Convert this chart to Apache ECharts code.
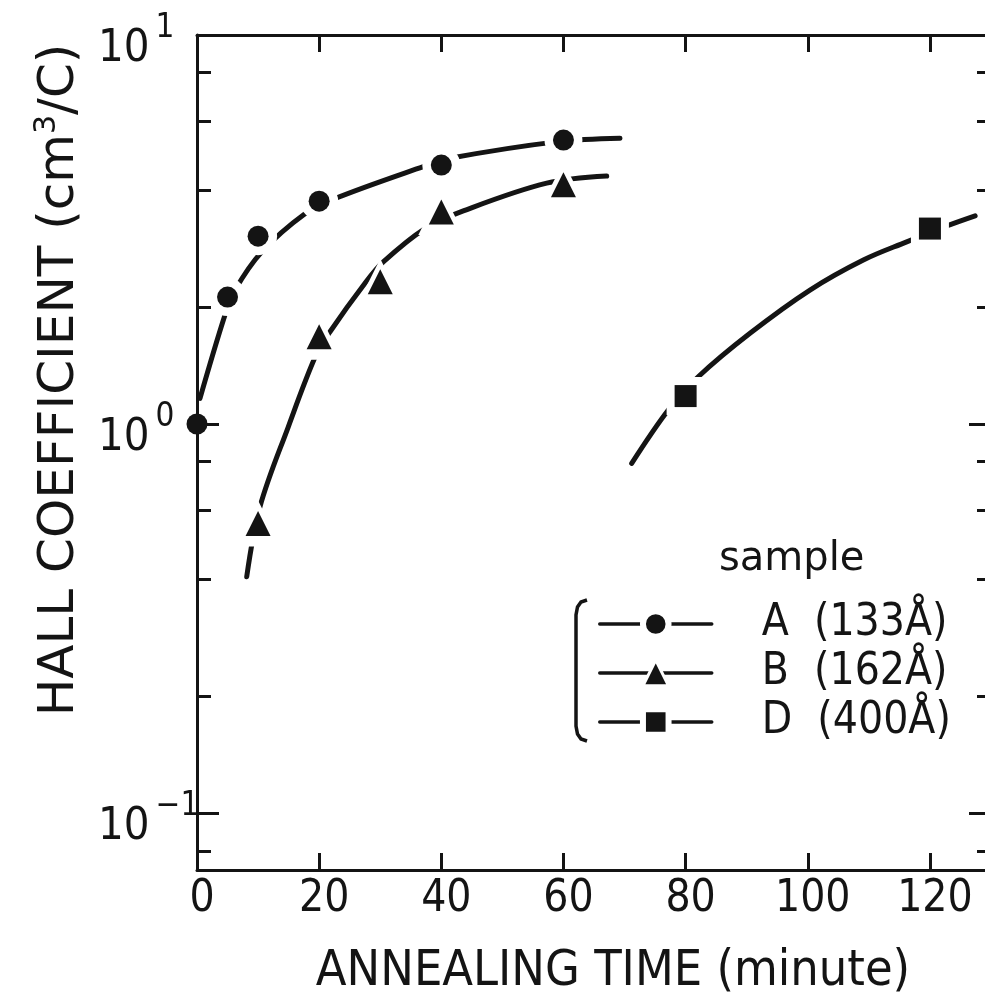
<!DOCTYPE html>
<html><head><meta charset="utf-8">
<script src="https://cdn.jsdelivr.net/npm/echarts@6/dist/echarts.min.js"></script>
<style>html,body{margin:0;padding:0;background:#fff}#c{width:985px;height:1001px}</style>
</head><body><div id="c"></div>
<script>
// ---- data ----
const sampleNames = ['A  (133Å)', 'B  (162Å)', 'D  (400Å)'];
// measured points
const aX = [0, 5, 10, 20, 40, 60];
const aY = [1.0, 2.12, 3.04, 3.74, 4.63, 5.37];
const bX = [10, 20, 30, 40, 60];
const bY = [0.555, 1.677, 2.32, 3.51, 4.12];
const dX = [80, 120];
const dY = [1.18, 3.18];
// hand-drawn curves, points
const aCurveX = [0.49, 4.58, 6.22, 10.6, 17.68, 22.6, 37.05, 41.4, 59.15, 69.25];
const aCurveY = [1.164, 1.906, 2.21, 2.77, 3.47, 3.80, 4.59, 4.82, 5.32, 5.43];
const bCurveX = [8.14, 10.31, 14.95, 19.48, 21.78, 27.5, 30.5, 37.33, 43.6, 57.25, 67.08];
const bCurveY = [0.405, 0.613, 0.984, 1.504, 1.727, 2.30, 2.61, 3.18, 3.53, 4.16, 4.34];
const dCurveX = [71.17, 77.16, 82.07, 90.54, 100.36, 109.1, 116.2, 122.5, 127.4];
const dCurveY = [0.792, 1.086, 1.323, 1.711, 2.21, 2.64, 2.94, 3.22, 3.43];
// axis ticks
const xTicks = [0, 20, 40, 60, 80, 100, 120];
const xTopTicks = [20, 40, 60, 80, 100, 120];
const yMajor = [0.1, 1, 10];
const yExp = ['−1', '0', '1'];
const yMinor = [0.08, 0.2, 0.4, 0.6, 0.8, 2, 4, 6, 8];

const ink = '#141414';
const narrow = "'Liberation Sans Narrow', 'DejaVu Sans Condensed', sans-serif";
// [symbol, visible size, white halo size]
const markers = [['circle', 21, 38], ['triangle', 25, 46], ['rect', 22, 38]];

function curve(i, xs, ys) {
  return {
    type: 'line', name: sampleNames[i], data: xs.map((x, k) => [x, ys[k]]),
    smooth: 0.35, symbol: markers[i][0], symbolSize: markers[i][1] + 6, showSymbol: false,
    clip: false, lineStyle: { color: ink, width: 5, cap: 'round' },
    itemStyle: { color: ink, borderColor: '#fff', borderWidth: 6 },
    emphasis: { disabled: true }, z: 2, zlevel: 0
  };
}
function halo(i, xs, ys) {
  return {
    type: 'scatter', name: 'halo' + i,
    data: xs.filter(x => x !== 0).map(x => [x, ys[xs.indexOf(x)]]),
    symbol: markers[i][0], symbolSize: markers[i][2], clip: false, silent: true,
    itemStyle: { color: '#ffffff', opacity: 1 },
    emphasis: { disabled: true }, z: 6, zlevel: 0
  };
}
function points(i, xs, ys) {
  return {
    type: 'scatter', name: 'pts' + i,
    data: xs.map((x, k) => [x, ys[k]]),
    symbol: markers[i][0], symbolSize: markers[i][1], clip: false,
    itemStyle: { color: ink, opacity: 1 },
    emphasis: { disabled: true }, z: 8, zlevel: 0
  };
}

const tickStyle = { color: ink, width: 3 };
const yMin = 0.0714, yMax = 10;

const chart = echarts.init(document.getElementById('c'), null, { renderer: 'canvas' });
chart.setOption({
  backgroundColor: '#fff',
  animation: false,
  grid: { left: 197, top: 35, width: 794, height: 835, containLabel: false, outerBoundsMode: 'none' },
  xAxis: [
    {
      type: 'value', min: 0, max: 130, position: 'bottom',
      axisLine: { show: true, lineStyle: { color: ink, width: 3 } },
      axisTick: { inside: true, length: 17, customValues: xTicks, lineStyle: tickStyle },
      axisLabel: { customValues: xTicks, margin: 8, padding: [0, 0, 0, 10], color: ink, fontSize: 44, fontFamily: narrow },
      splitLine: { show: false }
    },
    {
      type: 'value', min: 0, max: 130, position: 'top',
      axisLine: { show: true, lineStyle: { color: ink, width: 3 } },
      axisTick: { inside: true, length: 17, customValues: xTopTicks, lineStyle: tickStyle },
      axisLabel: { show: false }, splitLine: { show: false }
    }
  ],
  yAxis: [
    {
      type: 'log', logBase: 10, min: yMin, max: yMax, position: 'left',
      axisLine: { show: true, lineStyle: { color: ink, width: 3 } },
      axisTick: { inside: true, length: 22, customValues: yMajor, lineStyle: tickStyle },
      axisLabel: {
        customValues: yMajor, margin: 99, align: 'left', padding: [13, 0, 0, 0],
        formatter: function (v) {
          const i = yMajor.findIndex(m => Math.abs(m - v) / m < 1e-6);
          return i < 0 ? '' : '{b|10}{s|' + yExp[i] + '}';
        },
        rich: {
          b: { fontSize: 45, fontFamily: narrow, color: ink, lineHeight: 60, verticalAlign: 'bottom' },
          s: { fontSize: 33, fontFamily: narrow, color: ink, lineHeight: 60, verticalAlign: 'top', padding: [0, 0, 0, 6] }
        }
      },
      splitLine: { show: false }
    },
    {
      type: 'log', logBase: 10, min: yMin, max: yMax, position: 'left',
      axisLine: { show: false },
      axisTick: { inside: true, length: 14, customValues: yMinor, lineStyle: tickStyle },
      axisLabel: { show: false }, splitLine: { show: false }
    },
    {
      type: 'log', logBase: 10, min: yMin, max: yMax, position: 'right',
      axisLine: { show: true, lineStyle: { color: ink, width: 3 } },
      axisTick: { inside: true, length: 22, customValues: yMajor, lineStyle: tickStyle },
      axisLabel: { show: false }, splitLine: { show: false }
    },
    {
      type: 'log', logBase: 10, min: yMin, max: yMax, position: 'right',
      axisLine: { show: false },
      axisTick: { inside: true, length: 14, customValues: yMinor, lineStyle: tickStyle },
      axisLabel: { show: false }, splitLine: { show: false }
    }
  ],
  legend: {
    orient: 'vertical', left: 598, top: 602, padding: 0,
    itemWidth: 112, itemHeight: 32, itemGap: 5,
    data: [
      { name: sampleNames[0] },
      { name: sampleNames[1], itemStyle: { color: ink, borderColor: '#fff', borderWidth: 3 } },
      { name: sampleNames[2] }
    ],
    lineStyle: { width: 3.5, color: ink },
    itemStyle: { color: ink, borderColor: '#fff', borderWidth: 6 },
    textStyle: { color: ink, fontSize: 44, fontFamily: narrow, lineHeight: 40, padding: [0, 0, 0, 45] },
    selectedMode: false
  },
  series: [
    curve(0, aCurveX, aCurveY),
    curve(1, bCurveX, bCurveY),
    curve(2, dCurveX, dCurveY),
    halo(0, aX, aY),
    halo(1, bX, bY),
    halo(2, dX, dY),
    points(0, aX, aY),
    points(1, bX, bY),
    points(2, dX, dY)
  ],
  graphic: [
    {
      type: 'polyline',
      shape: { points: [[587, 600], [581, 602], [577.5, 607], [576, 615], [576, 726], [577.5, 734], [581, 739], [587, 741]] },
      style: { stroke: ink, lineWidth: 3.5, fill: null }
    },
    {
      type: 'text', x: 719, y: 560,
      style: { text: 'sample', fontSize: 40, fontFamily: 'DejaVu Sans', fill: ink, align: 'left', verticalAlign: 'middle' }
    },
    {
      type: 'text', x: 613, y: 972,
      style: { text: 'ANNEALING TIME (minute)', fontSize: 50, fontFamily: 'DejaVu Sans Condensed', fill: ink, align: 'center', verticalAlign: 'middle' }
    },
    {
      type: 'text', x: 60, y: 380, rotation: Math.PI / 2,
      style: {
        text: '{a|HALL COEFFICIENT (cm}{s|3}{a|/C)}',
        align: 'center', verticalAlign: 'middle',
        rich: {
          a: { fontSize: 50, fontFamily: 'DejaVu Sans', fill: ink, color: ink, lineHeight: 56, verticalAlign: 'middle' },
          s: { fontSize: 30, fontFamily: 'DejaVu Sans', fill: ink, color: ink, lineHeight: 56, verticalAlign: 'top' }
        }
      }
    }
  ]
});
</script>
</body></html>
